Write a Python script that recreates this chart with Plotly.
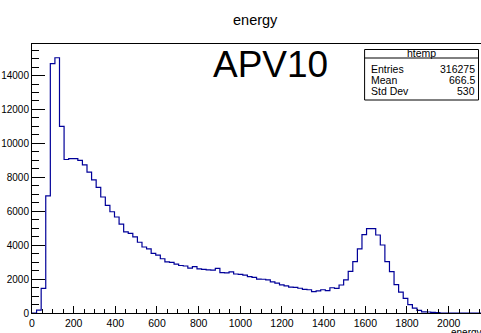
import plotly.graph_objects as go

# ---- data ----
bin_low = 0
bin_width = 22
counts = [
    0, 170, 1450, 6900, 14700, 15050, 11000, 9050, 9100, 9100,
    9000, 8730, 8300, 7850, 7410, 6840, 6350, 5970, 5660, 5240,
    4785, 4700, 4490, 4170, 3890, 3780, 3510, 3410, 3200, 3010,
    2980, 2880, 2800, 2770, 2650, 2730, 2600, 2570, 2540, 2530,
    2630, 2380, 2370, 2420, 2300, 2280, 2230, 2150, 2100, 2000,
    1990, 1950, 1840, 1760, 1660, 1600, 1530, 1510, 1460, 1390,
    1370, 1260, 1310, 1370, 1320, 1490, 1450, 1650, 1950, 2460,
    3030, 3780, 4620, 4980, 4980, 4600, 4010, 3030, 2440, 1670,
    1230, 865, 490, 290, 160, 70, 60, 40, 25, 0,
    0, 0, 0, 0, 0, 0, 0, 0, 0, 0,
]
x_tick_vals = [0, 200, 400, 600, 800, 1000, 1200, 1400, 1600, 1800, 2000]
y_tick_vals = [0, 2000, 4000, 6000, 8000, 10000, 12000, 14000]
stats_labels = ["Entries", "Mean", "Std Dev"]
stats_values = ["316275", "666.5", "530"]
title_text = "energy"
big_label = "APV10"
hist_name = "htemp"

edges = [bin_low + i * bin_width for i in range(len(counts) + 1)]
step_y = counts + [counts[-1]]

W, H = 481, 333
L, T, B = 31.6, 44, 20
PW = W - L
PH = H - T - B
FONT = "Liberation Sans, Arial, sans-serif"
LINE = "#000099"


def px(xp):
    return (xp - L) / PW


def py(yp):
    return (H - B - yp) / PH


fig = go.Figure()
fig.add_trace(go.Scatter(
    x=edges, y=step_y, mode="lines", line_shape="hv",
    line=dict(color=LINE, width=1.2), hoverinfo="skip", showlegend=False,
))

ann = []
ann.append(dict(text=title_text, x=px(255), y=py(20), xref="paper", yref="paper",
                showarrow=False, font=dict(family=FONT, size=14.5, color="black"),
                xanchor="center", yanchor="middle"))
ann.append(dict(text=big_label, x=px(270), y=py(64), xref="paper", yref="paper",
                showarrow=False, font=dict(family=FONT, size=37, color="black"),
                xanchor="center", yanchor="middle"))
# stats box
ann.append(dict(text=hist_name, x=px(421.3), y=py(53.5), xref="paper", yref="paper",
                showarrow=False, font=dict(family=FONT, size=10.5, color="black"),
                xanchor="center", yanchor="middle"))
row_y = [69, 80, 91]
for lab, val, ry in zip(stats_labels, stats_values, row_y):
    ann.append(dict(text=lab, x=px(369), y=py(ry), xref="paper", yref="paper",
                    showarrow=False, font=dict(family=FONT, size=10.5, color="black"),
                    xanchor="left", yanchor="middle"))
    ann.append(dict(text=val, x=px(476.5), y=py(ry), xref="paper", yref="paper",
                    showarrow=False, font=dict(family=FONT, size=10.5, color="black"),
                    xanchor="right", yanchor="middle"))
# axis title (cut at the bottom edge like the reference)
ann.append(dict(text="energy", x=px(449), y=py(325), xref="paper", yref="paper",
                showarrow=False, font=dict(family=FONT, size=10, color="black"),
                xanchor="left", yanchor="top"))

shapes = [
    dict(type="rect", xref="paper", yref="paper", x0=px(364.5), x1=px(478.5),
         y0=py(49.5), y1=py(100), line=dict(color="black", width=1), fillcolor="white", layer="above"),
    dict(type="line", xref="paper", yref="paper", x0=px(364.5), x1=px(478.5),
         y0=py(58), y1=py(58), line=dict(color="black", width=1), layer="above"),
]

fig.update_layout(
    width=W, height=H,
    margin=dict(l=L, r=0, t=T, b=B, pad=0),
    paper_bgcolor="white", plot_bgcolor="white",
    annotations=ann, shapes=shapes,
    xaxis=dict(range=[0, PW / 0.2085], showgrid=False, zeroline=False,
               showline=True, linecolor="black", linewidth=1, mirror=True,
               ticks="inside", ticklen=7, tickcolor="black", tickwidth=1,
               tickvals=x_tick_vals, ticktext=[str(v) for v in x_tick_vals],
               tickfont=dict(family=FONT, size=10.5, color="black"),
               minor=dict(dtick=50, tick0=0, ticks="inside", ticklen=4, tickcolor="black"),
               fixedrange=True),
    yaxis=dict(range=[0, 15860], showgrid=False, zeroline=False,
               showline=True, linecolor="black", linewidth=1, mirror=False,
               ticks="inside", ticklen=13, tickcolor="black", tickwidth=1,
               tickvals=y_tick_vals, ticktext=[str(v) for v in y_tick_vals],
               tickfont=dict(family=FONT, size=10, color="black"),
               minor=dict(dtick=500, tick0=0, ticks="inside", ticklen=7, tickcolor="black"),
               fixedrange=True),
)

fig.write_html(
    "out.html",
    config={"displayModeBar": False},
    post_script="document.body.style.margin='0';document.body.style.overflow='hidden';",
)
